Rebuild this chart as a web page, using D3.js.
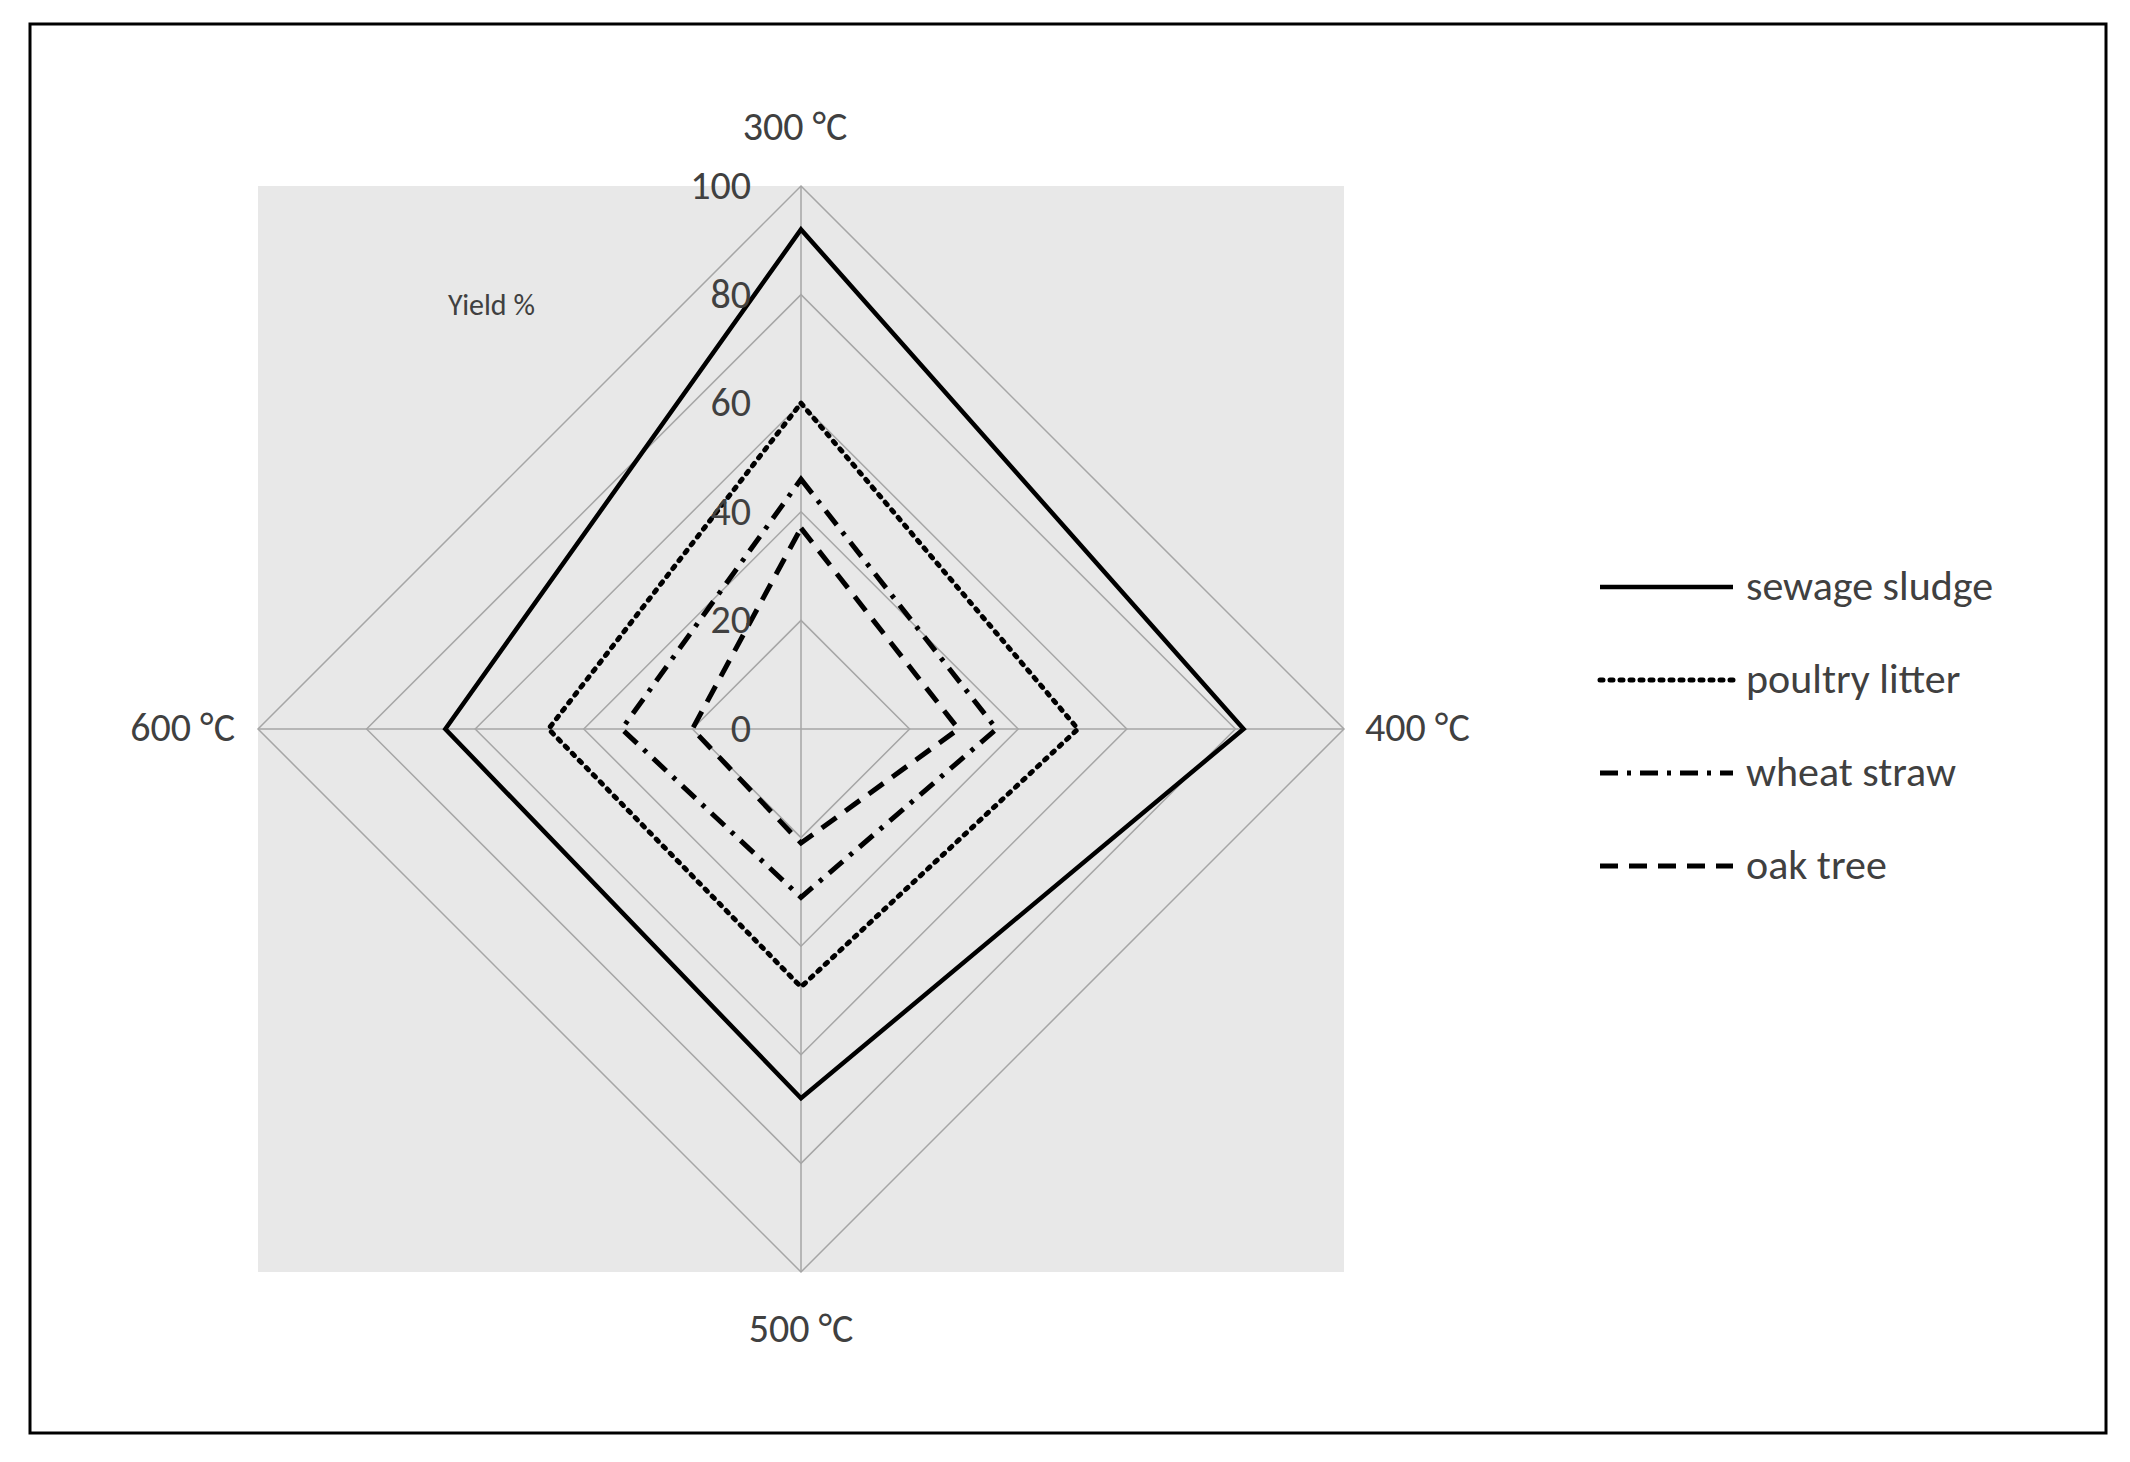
<!DOCTYPE html>
<html><head><meta charset="utf-8">
<script src="https://cdn.jsdelivr.net/npm/d3@7"></script>
<style>body{margin:0;background:#fff}text{font-family:Calibri,Carlito,"Liberation Sans",sans-serif}</style>
</head><body>
<script>
var categories = ["300 °C", "400 °C", "500 °C", "600 °C"];
var seriesNames = ["sewage sludge", "poultry litter", "wheat straw", "oak tree"];
var sewageSludge = [92, 81.5, 68, 65.5];
var poultryLitter = [60, 51, 47.5, 46.5];
var wheatStraw = [46, 36, 31, 33];
var oakTree = [37, 29, 21, 20];
var ticks = [0, 20, 40, 60, 80, 100];

var w = 2130, h = 1462;
var cx = 801, cy = 729, R = 543;
var dashes = [null, "3,7", "18,9,4,9", "18,11"];
var series = [sewageSludge, poultryLitter, wheatStraw, oakTree];

var svg = d3.select("body").append("svg").attr("width", w).attr("height", h);
svg.append("rect").attr("x", 30).attr("y", 24).attr("width", 2076).attr("height", 1409)
    .attr("fill", "#fff").attr("stroke", "#000").attr("stroke-width", 3);
svg.append("rect").attr("x", cx - R).attr("y", cy - R).attr("width", 2 * R).attr("height", 2 * R).attr("fill", "#e8e8e8");

var r = d3.scaleLinear().domain([0, 100]).range([0, R]);
var ang = function(i) { return i * Math.PI / 2; };
var pt = function(v, i) { return [cx + r(v) * Math.sin(ang(i)), cy - r(v) * Math.cos(ang(i))]; };
var line = d3.line().curve(d3.curveLinearClosed);

// grid
ticks.slice(1).forEach(function(t) {
    svg.append("path").attr("d", line(categories.map(function(c, i) { return pt(t, i); })))
        .attr("fill", "none").attr("stroke", "#a6a6a6").attr("stroke-width", 1.5);
});
categories.forEach(function(c, i) {
    var p = pt(100, i);
    svg.append("line").attr("x1", cx).attr("y1", cy).attr("x2", p[0]).attr("y2", p[1])
        .attr("stroke", "#a6a6a6").attr("stroke-width", 1.5);
});

// series
series.forEach(function(s, k) {
    svg.append("path").attr("d", line(s.map(pt))).attr("fill", "none").attr("stroke", "#000")
        .attr("stroke-width", k == 0 ? 4.5 : 5).attr("stroke-dasharray", dashes[k])
        .attr("stroke-linecap", k == 1 ? "round" : "butt");
});

// tick labels
ticks.forEach(function(t) {
    svg.append("text").attr("x", cx - 50).attr("y", cy - r(t) + 13).attr("text-anchor", "end")
        .attr("font-size", 40).attr("fill", "#404040").text(t);
});

// category labels
var lp = [[795, 140, "middle"], [1365, 741, "start"], [235, 741, "end"], [801, 1342, "middle"]];
categories.forEach(function(c, i) {
    var q = lp[[0, 1, 3, 2][i]];
    if (i == 3) q = lp[2];
    if (i == 2) q = lp[3];
    svg.append("text").attr("x", q[0]).attr("y", q[1]).attr("text-anchor", q[2])
        .attr("font-size", 40).attr("fill", "#404040").text(c);
});

svg.append("text").attr("x", 448).attr("y", 315).attr("font-size", 30).attr("fill", "#404040").text("Yield %");

// legend
seriesNames.forEach(function(n, k) {
    var y = 587 + k * 93;
    svg.append("line").attr("x1", 1600).attr("x2", 1733).attr("y1", y).attr("y2", y)
        .attr("stroke", "#000").attr("stroke-width", k == 0 ? 4.5 : 5)
        .attr("stroke-dasharray", dashes[k]).attr("stroke-linecap", k == 1 ? "round" : "butt");
    svg.append("text").attr("x", 1746).attr("y", y + 13).attr("font-size", 42).attr("fill", "#404040").text(n);
});
</script>
</body></html>
